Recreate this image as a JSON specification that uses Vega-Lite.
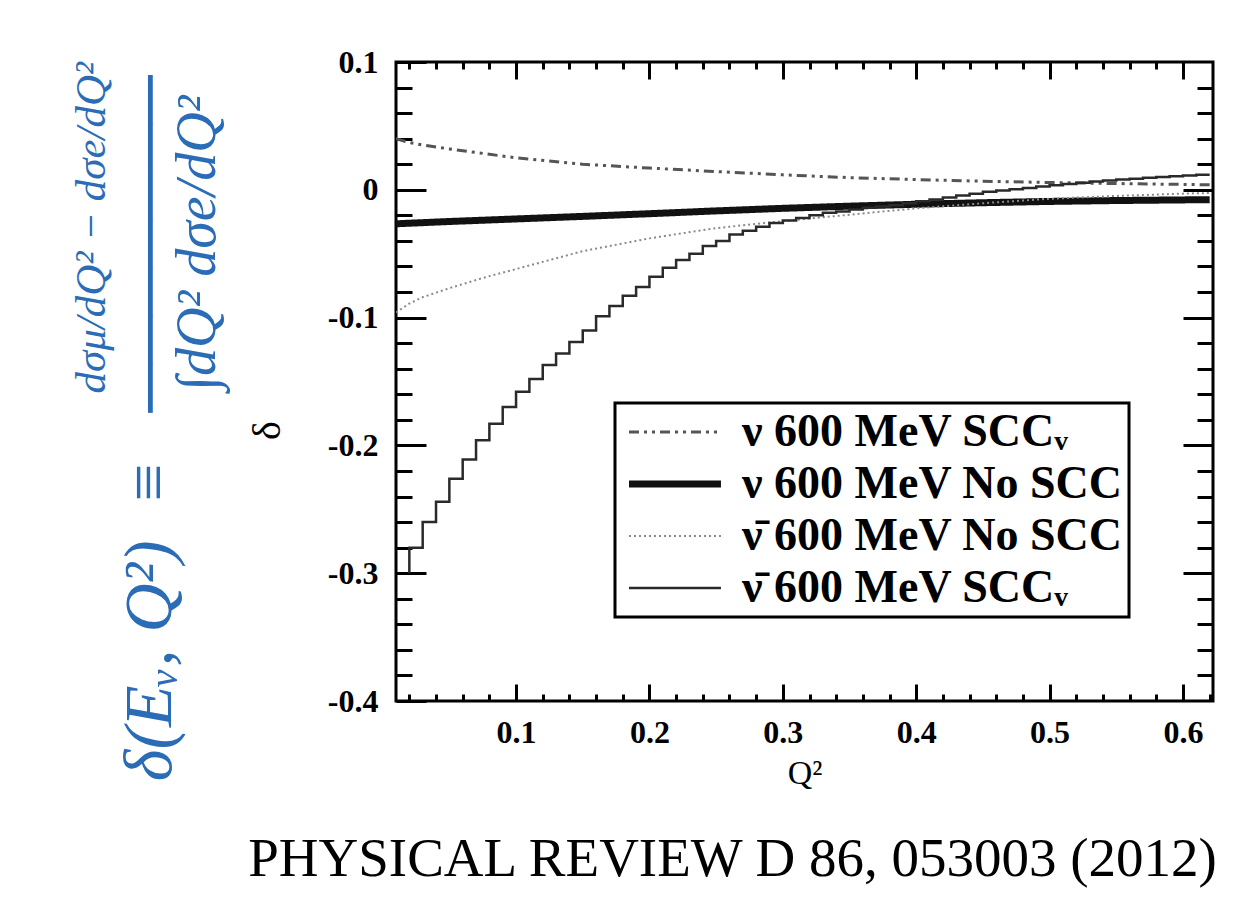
{
  "$schema": "https://vega.github.io/schema/vega-lite/v6.json",
  "width": 817,
  "height": 639,
  "autosize": "none",
  "padding": {"left": 396, "top": 62, "right": 45, "bottom": 208},
  "background": "white",
  "title": {
    "text": "dσμ/dQ² − dσe/dQ²",
    "orient": "left",
    "anchor": "end",
    "frame": "group",
    "font": "Liberation Serif",
    "fontStyle": "italic",
    "fontWeight": "normal",
    "fontSize": 43,
    "color": "#2a6cb6",
    "offset": 2
  },
  "datasets": {
    "curves": [
      {"q2": 0.01, "delta": 0.040, "series": "ν 600 MeV SCCᵥ"},
      {"q2": 0.02, "delta": 0.037, "series": "ν 600 MeV SCCᵥ"},
      {"q2": 0.03, "delta": 0.035, "series": "ν 600 MeV SCCᵥ"},
      {"q2": 0.05, "delta": 0.032, "series": "ν 600 MeV SCCᵥ"},
      {"q2": 0.075, "delta": 0.0285, "series": "ν 600 MeV SCCᵥ"},
      {"q2": 0.10, "delta": 0.025, "series": "ν 600 MeV SCCᵥ"},
      {"q2": 0.15, "delta": 0.020, "series": "ν 600 MeV SCCᵥ"},
      {"q2": 0.20, "delta": 0.017, "series": "ν 600 MeV SCCᵥ"},
      {"q2": 0.25, "delta": 0.0143, "series": "ν 600 MeV SCCᵥ"},
      {"q2": 0.30, "delta": 0.0117, "series": "ν 600 MeV SCCᵥ"},
      {"q2": 0.35, "delta": 0.0095, "series": "ν 600 MeV SCCᵥ"},
      {"q2": 0.40, "delta": 0.008, "series": "ν 600 MeV SCCᵥ"},
      {"q2": 0.45, "delta": 0.0067, "series": "ν 600 MeV SCCᵥ"},
      {"q2": 0.50, "delta": 0.0057, "series": "ν 600 MeV SCCᵥ"},
      {"q2": 0.55, "delta": 0.0049, "series": "ν 600 MeV SCCᵥ"},
      {"q2": 0.60, "delta": 0.0042, "series": "ν 600 MeV SCCᵥ"},
      {"q2": 0.62, "delta": 0.0039, "series": "ν 600 MeV SCCᵥ"},
      {"q2": 0.01, "delta": -0.0266, "series": "ν 600 MeV No SCC"},
      {"q2": 0.05, "delta": -0.0248, "series": "ν 600 MeV No SCC"},
      {"q2": 0.10, "delta": -0.0228, "series": "ν 600 MeV No SCC"},
      {"q2": 0.15, "delta": -0.0208, "series": "ν 600 MeV No SCC"},
      {"q2": 0.20, "delta": -0.0187, "series": "ν 600 MeV No SCC"},
      {"q2": 0.25, "delta": -0.0165, "series": "ν 600 MeV No SCC"},
      {"q2": 0.30, "delta": -0.0145, "series": "ν 600 MeV No SCC"},
      {"q2": 0.35, "delta": -0.0128, "series": "ν 600 MeV No SCC"},
      {"q2": 0.40, "delta": -0.0113, "series": "ν 600 MeV No SCC"},
      {"q2": 0.45, "delta": -0.0101, "series": "ν 600 MeV No SCC"},
      {"q2": 0.50, "delta": -0.0091, "series": "ν 600 MeV No SCC"},
      {"q2": 0.55, "delta": -0.0084, "series": "ν 600 MeV No SCC"},
      {"q2": 0.60, "delta": -0.0079, "series": "ν 600 MeV No SCC"},
      {"q2": 0.62, "delta": -0.0077, "series": "ν 600 MeV No SCC"},
      {"q2": 0.01, "delta": -0.096, "series": "ν̄ 600 MeV No SCC"},
      {"q2": 0.02, "delta": -0.089, "series": "ν̄ 600 MeV No SCC"},
      {"q2": 0.03, "delta": -0.084, "series": "ν̄ 600 MeV No SCC"},
      {"q2": 0.05, "delta": -0.077, "series": "ν̄ 600 MeV No SCC"},
      {"q2": 0.075, "delta": -0.069, "series": "ν̄ 600 MeV No SCC"},
      {"q2": 0.10, "delta": -0.062, "series": "ν̄ 600 MeV No SCC"},
      {"q2": 0.125, "delta": -0.055, "series": "ν̄ 600 MeV No SCC"},
      {"q2": 0.15, "delta": -0.048, "series": "ν̄ 600 MeV No SCC"},
      {"q2": 0.20, "delta": -0.038, "series": "ν̄ 600 MeV No SCC"},
      {"q2": 0.25, "delta": -0.030, "series": "ν̄ 600 MeV No SCC"},
      {"q2": 0.30, "delta": -0.0245, "series": "ν̄ 600 MeV No SCC"},
      {"q2": 0.35, "delta": -0.0195, "series": "ν̄ 600 MeV No SCC"},
      {"q2": 0.40, "delta": -0.0145, "series": "ν̄ 600 MeV No SCC"},
      {"q2": 0.45, "delta": -0.0105, "series": "ν̄ 600 MeV No SCC"},
      {"q2": 0.50, "delta": -0.007, "series": "ν̄ 600 MeV No SCC"},
      {"q2": 0.55, "delta": -0.0048, "series": "ν̄ 600 MeV No SCC"},
      {"q2": 0.60, "delta": -0.003, "series": "ν̄ 600 MeV No SCC"},
      {"q2": 0.62, "delta": -0.0025, "series": "ν̄ 600 MeV No SCC"}
    ],
    "steps": [
      {"q2": 0.02, "delta": -0.300, "series": "ν̄ 600 MeV SCCᵥ"},
      {"q2": 0.03, "delta": -0.280, "series": "ν̄ 600 MeV SCCᵥ"},
      {"q2": 0.04, "delta": -0.260, "series": "ν̄ 600 MeV SCCᵥ"},
      {"q2": 0.05, "delta": -0.244, "series": "ν̄ 600 MeV SCCᵥ"},
      {"q2": 0.06, "delta": -0.226, "series": "ν̄ 600 MeV SCCᵥ"},
      {"q2": 0.07, "delta": -0.211, "series": "ν̄ 600 MeV SCCᵥ"},
      {"q2": 0.08, "delta": -0.196, "series": "ν̄ 600 MeV SCCᵥ"},
      {"q2": 0.09, "delta": -0.183, "series": "ν̄ 600 MeV SCCᵥ"},
      {"q2": 0.10, "delta": -0.170, "series": "ν̄ 600 MeV SCCᵥ"},
      {"q2": 0.11, "delta": -0.158, "series": "ν̄ 600 MeV SCCᵥ"},
      {"q2": 0.12, "delta": -0.148, "series": "ν̄ 600 MeV SCCᵥ"},
      {"q2": 0.13, "delta": -0.137, "series": "ν̄ 600 MeV SCCᵥ"},
      {"q2": 0.14, "delta": -0.128, "series": "ν̄ 600 MeV SCCᵥ"},
      {"q2": 0.15, "delta": -0.119, "series": "ν̄ 600 MeV SCCᵥ"},
      {"q2": 0.16, "delta": -0.110, "series": "ν̄ 600 MeV SCCᵥ"},
      {"q2": 0.17, "delta": -0.099, "series": "ν̄ 600 MeV SCCᵥ"},
      {"q2": 0.18, "delta": -0.091, "series": "ν̄ 600 MeV SCCᵥ"},
      {"q2": 0.19, "delta": -0.083, "series": "ν̄ 600 MeV SCCᵥ"},
      {"q2": 0.20, "delta": -0.076, "series": "ν̄ 600 MeV SCCᵥ"},
      {"q2": 0.21, "delta": -0.068, "series": "ν̄ 600 MeV SCCᵥ"},
      {"q2": 0.22, "delta": -0.061, "series": "ν̄ 600 MeV SCCᵥ"},
      {"q2": 0.23, "delta": -0.055, "series": "ν̄ 600 MeV SCCᵥ"},
      {"q2": 0.24, "delta": -0.050, "series": "ν̄ 600 MeV SCCᵥ"},
      {"q2": 0.25, "delta": -0.044, "series": "ν̄ 600 MeV SCCᵥ"},
      {"q2": 0.26, "delta": -0.040, "series": "ν̄ 600 MeV SCCᵥ"},
      {"q2": 0.27, "delta": -0.035, "series": "ν̄ 600 MeV SCCᵥ"},
      {"q2": 0.28, "delta": -0.032, "series": "ν̄ 600 MeV SCCᵥ"},
      {"q2": 0.29, "delta": -0.029, "series": "ν̄ 600 MeV SCCᵥ"},
      {"q2": 0.30, "delta": -0.026, "series": "ν̄ 600 MeV SCCᵥ"},
      {"q2": 0.31, "delta": -0.024, "series": "ν̄ 600 MeV SCCᵥ"},
      {"q2": 0.32, "delta": -0.022, "series": "ν̄ 600 MeV SCCᵥ"},
      {"q2": 0.33, "delta": -0.020, "series": "ν̄ 600 MeV SCCᵥ"},
      {"q2": 0.34, "delta": -0.018, "series": "ν̄ 600 MeV SCCᵥ"},
      {"q2": 0.35, "delta": -0.017, "series": "ν̄ 600 MeV SCCᵥ"},
      {"q2": 0.36, "delta": -0.0155, "series": "ν̄ 600 MeV SCCᵥ"},
      {"q2": 0.37, "delta": -0.014, "series": "ν̄ 600 MeV SCCᵥ"},
      {"q2": 0.38, "delta": -0.013, "series": "ν̄ 600 MeV SCCᵥ"},
      {"q2": 0.39, "delta": -0.012, "series": "ν̄ 600 MeV SCCᵥ"},
      {"q2": 0.40, "delta": -0.0105, "series": "ν̄ 600 MeV SCCᵥ"},
      {"q2": 0.41, "delta": -0.009, "series": "ν̄ 600 MeV SCCᵥ"},
      {"q2": 0.42, "delta": -0.0075, "series": "ν̄ 600 MeV SCCᵥ"},
      {"q2": 0.43, "delta": -0.006, "series": "ν̄ 600 MeV SCCᵥ"},
      {"q2": 0.44, "delta": -0.0045, "series": "ν̄ 600 MeV SCCᵥ"},
      {"q2": 0.45, "delta": -0.003, "series": "ν̄ 600 MeV SCCᵥ"},
      {"q2": 0.46, "delta": -0.0015, "series": "ν̄ 600 MeV SCCᵥ"},
      {"q2": 0.47, "delta": -0.0005, "series": "ν̄ 600 MeV SCCᵥ"},
      {"q2": 0.48, "delta": 0.0005, "series": "ν̄ 600 MeV SCCᵥ"},
      {"q2": 0.49, "delta": 0.0015, "series": "ν̄ 600 MeV SCCᵥ"},
      {"q2": 0.50, "delta": 0.0025, "series": "ν̄ 600 MeV SCCᵥ"},
      {"q2": 0.51, "delta": 0.0035, "series": "ν̄ 600 MeV SCCᵥ"},
      {"q2": 0.52, "delta": 0.0045, "series": "ν̄ 600 MeV SCCᵥ"},
      {"q2": 0.53, "delta": 0.0055, "series": "ν̄ 600 MeV SCCᵥ"},
      {"q2": 0.54, "delta": 0.0065, "series": "ν̄ 600 MeV SCCᵥ"},
      {"q2": 0.55, "delta": 0.0073, "series": "ν̄ 600 MeV SCCᵥ"},
      {"q2": 0.56, "delta": 0.008, "series": "ν̄ 600 MeV SCCᵥ"},
      {"q2": 0.57, "delta": 0.0087, "series": "ν̄ 600 MeV SCCᵥ"},
      {"q2": 0.58, "delta": 0.0094, "series": "ν̄ 600 MeV SCCᵥ"},
      {"q2": 0.59, "delta": 0.0100, "series": "ν̄ 600 MeV SCCᵥ"},
      {"q2": 0.60, "delta": 0.0106, "series": "ν̄ 600 MeV SCCᵥ"},
      {"q2": 0.61, "delta": 0.0112, "series": "ν̄ 600 MeV SCCᵥ"},
      {"q2": 0.62, "delta": 0.0117, "series": "ν̄ 600 MeV SCCᵥ"}
    ]
  },
  "resolve": {"axis": {"x": "independent", "y": "independent"}},
  "layer": [
    {
      "data": {"name": "curves"},
      "mark": {"type": "line", "clip": true},
      "encoding": {
        "x": {
          "field": "q2", "type": "quantitative",
          "scale": {"domain": [0.01, 0.6225], "nice": false, "zero": false},
          "axis": {
            "orient": "bottom",
            "values": [0.1, 0.2, 0.3, 0.4, 0.5, 0.6],
            "format": ".1f",
            "tickSize": -17,
            "labelPadding": 33,
            "title": "Q²",
            "titleFontSize": 34,
            "titlePadding": 8
          }
        },
        "y": {
          "field": "delta", "type": "quantitative",
          "scale": {"domain": [-0.4, 0.1], "nice": false, "zero": false},
          "axis": {
            "orient": "left",
            "values": [-0.4, -0.3, -0.2, -0.1, 0, 0.1],
            "labelExpr": "datum.value == 0 ? '0' : replace(format(datum.value, '.1f'), '−', '-')",
            "tickSize": -30,
            "labelPadding": 48,
            "title": "δ",
            "titleFontSize": 40,
            "titlePadding": 40,
            "titleY": 368
          }
        },
        "color": {
          "field": "series", "type": "nominal",
          "scale": {
            "type": "ordinal",
            "domain": ["ν 600 MeV SCCᵥ", "ν 600 MeV No SCC", "ν̄ 600 MeV No SCC", "ν̄ 600 MeV SCCᵥ"],
            "range": ["#555555", "#111111", "#8a8a8a", "#2a2a2a"]
          },
          "legend": {"title": null, "labelExpr": "datum.label + '\u2007'"}
        },
        "strokeDash": {
          "field": "series", "type": "nominal",
          "scale": {
            "type": "ordinal",
            "domain": ["ν 600 MeV SCCᵥ", "ν 600 MeV No SCC", "ν̄ 600 MeV No SCC", "ν̄ 600 MeV SCCᵥ"],
            "range": [[10, 5, 3, 5, 3, 5], [1, 0], [2, 3], [1, 0]]
          },
          "legend": {"title": null, "labelExpr": "datum.label + '\u2007'"}
        },
        "strokeWidth": {
          "field": "series", "type": "nominal",
          "scale": {
            "type": "ordinal",
            "domain": ["ν 600 MeV SCCᵥ", "ν 600 MeV No SCC", "ν̄ 600 MeV No SCC", "ν̄ 600 MeV SCCᵥ"],
            "range": [3, 7, 2, 2.5]
          },
          "legend": {"title": null, "labelExpr": "datum.label + '\u2007'"}
        }
      }
    },
    {
      "data": {"name": "steps"},
      "mark": {"type": "line", "interpolate": "step-before", "clip": true},
      "encoding": {
        "x": {
          "field": "q2", "type": "quantitative",
          "scale": {"domain": [0.01, 0.6225], "nice": false, "zero": false},
          "axis": {
            "orient": "bottom",
            "values": [0.02, 0.04, 0.06, 0.08, 0.1, 0.12, 0.14, 0.16, 0.18, 0.2, 0.22, 0.24, 0.26, 0.28, 0.3, 0.32, 0.34, 0.36, 0.38, 0.4, 0.42, 0.44, 0.46, 0.48, 0.5, 0.52, 0.54, 0.56, 0.58, 0.6, 0.62],
            "tickSize": -7,
            "labels": false,
            "title": "PHYSICAL REVIEW D 86, 053003 (2012)",
            "titleFontSize": 55,
            "titleX": 336,
            "titleY": 174,
            "titleAlign": "center",
            "titleBaseline": "alphabetic"
          }
        },
        "y": {
          "field": "delta", "type": "quantitative",
          "scale": {"domain": [-0.4, 0.1], "nice": false, "zero": false},
          "axis": {
            "orient": "left",
            "values": [-0.38, -0.36, -0.34, -0.32, -0.28, -0.26, -0.24, -0.22, -0.18, -0.16, -0.14, -0.12, -0.08, -0.06, -0.04, -0.02, 0.02, 0.04, 0.06, 0.08],
            "tickSize": -16,
            "labels": false,
            "title": "δ(Eᵥ, Q²)\u2002≡\u2002\u2009───────",
            "titleFont": "Liberation Serif",
            "titleFontStyle": "italic",
            "titleFontSize": 68,
            "titleColor": "#2a6cb6",
            "titleAngle": 270,
            "titleAlign": "right",
            "titleBaseline": "middle",
            "titleX": -246,
            "titleY": 13
          }
        },
        "color": {
          "field": "series", "type": "nominal",
          "scale": {
            "type": "ordinal",
            "domain": ["ν 600 MeV SCCᵥ", "ν 600 MeV No SCC", "ν̄ 600 MeV No SCC", "ν̄ 600 MeV SCCᵥ"],
            "range": ["#555555", "#111111", "#8a8a8a", "#2a2a2a"]
          },
          "legend": {"title": null, "labelExpr": "datum.label + '\u2007'"}
        },
        "strokeDash": {
          "field": "series", "type": "nominal",
          "scale": {
            "type": "ordinal",
            "domain": ["ν 600 MeV SCCᵥ", "ν 600 MeV No SCC", "ν̄ 600 MeV No SCC", "ν̄ 600 MeV SCCᵥ"],
            "range": [[10, 5, 3, 5, 3, 5], [1, 0], [2, 3], [1, 0]]
          },
          "legend": {"title": null, "labelExpr": "datum.label + '\u2007'"}
        },
        "strokeWidth": {
          "field": "series", "type": "nominal",
          "scale": {
            "type": "ordinal",
            "domain": ["ν 600 MeV SCCᵥ", "ν 600 MeV No SCC", "ν̄ 600 MeV No SCC", "ν̄ 600 MeV SCCᵥ"],
            "range": [3, 7, 2, 2.5]
          },
          "legend": {"title": null, "labelExpr": "datum.label + '\u2007'"}
        }
      }
    },
    {
      "data": {"name": "curves"},
      "mark": {"type": "point", "opacity": 0},
      "encoding": {
        "x": {
          "field": "q2", "type": "quantitative",
          "scale": {"domain": [0.01, 0.6225], "nice": false, "zero": false},
          "axis": {"orient": "top", "values": [0.1, 0.2, 0.3, 0.4, 0.5, 0.6], "tickSize": -17, "labels": false, "title": null}
        },
        "y": {
          "field": "delta", "type": "quantitative",
          "scale": {"domain": [-0.4, 0.1], "nice": false, "zero": false},
          "axis": {"orient": "right", "values": [-0.3, -0.2, -0.1, 0], "tickSize": -30, "labels": false, "title": null}
        }
      }
    },
    {
      "data": {"name": "curves"},
      "mark": {"type": "point", "opacity": 0},
      "encoding": {
        "x": {
          "field": "q2", "type": "quantitative",
          "scale": {"domain": [0.01, 0.6225], "nice": false, "zero": false},
          "axis": {"orient": "top", "values": [0.02, 0.04, 0.06, 0.08, 0.12, 0.14, 0.16, 0.18, 0.22, 0.24, 0.26, 0.28, 0.32, 0.34, 0.36, 0.38, 0.42, 0.44, 0.46, 0.48, 0.52, 0.54, 0.56, 0.58], "tickSize": -7, "labels": false, "title": null}
        },
        "y": {
          "field": "delta", "type": "quantitative",
          "scale": {"domain": [-0.4, 0.1], "nice": false, "zero": false},
          "axis": {"orient": "right", "values": [-0.38, -0.36, -0.34, -0.32, -0.28, -0.26, -0.24, -0.22, -0.18, -0.16, -0.14, -0.12, -0.08, -0.06, -0.04, -0.02, 0.02, 0.04, 0.06, 0.08], "tickSize": -16, "labels": false, "title": null}
        }
      }
    },
    {
      "data": {"name": "curves"},
      "mark": {"type": "point", "opacity": 0},
      "encoding": {
        "x": {
          "field": "q2", "type": "quantitative",
          "scale": {"domain": [0.01, 0.6225], "nice": false, "zero": false},
          "axis": null
        },
        "y": {
          "field": "delta", "type": "quantitative",
          "scale": {"domain": [-0.4, 0.1], "nice": false, "zero": false},
          "axis": {
            "orient": "left",
            "ticks": false,
            "labels": false,
            "title": "∫dQ² dσe/dQ²",
            "titleFont": "Liberation Serif",
            "titleFontStyle": "italic",
            "titleFontSize": 56,
            "titleColor": "#2a6cb6",
            "titleAngle": 270,
            "titleAlign": "right",
            "titleBaseline": "middle",
            "titleX": -199,
            "titleY": 33
          }
        }
      }
    }
  ],
  "config": {
    "view": {"stroke": "black", "strokeWidth": 3},
    "axis": {
      "domain": false,
      "grid": false,
      "tickColor": "black",
      "tickWidth": 3,
      "labelFont": "Liberation Serif",
      "labelFontWeight": "bold",
      "labelFontSize": 32,
      "labelColor": "black",
      "labelFlush": false,
      "labelOverlap": false,
      "titleFont": "Liberation Serif",
      "titleFontWeight": "normal",
      "titleColor": "black"
    },
    "legend": {
      "orient": "bottom-right",
      "offset": 84,
      "strokeColor": "black",
      "strokeWidth": 3,
      "fillColor": "white",
      "padding": 6,
      "labelFont": "Liberation Serif",
      "labelFontWeight": "bold",
      "labelFontSize": 46,
      "labelColor": "black",
      "labelLimit": 0,
      "labelOffset": 75,
      "symbolType": "M-1,0H5.13",
      "symbolSize": 900,
      "rowPadding": 6
    }
  }
}
